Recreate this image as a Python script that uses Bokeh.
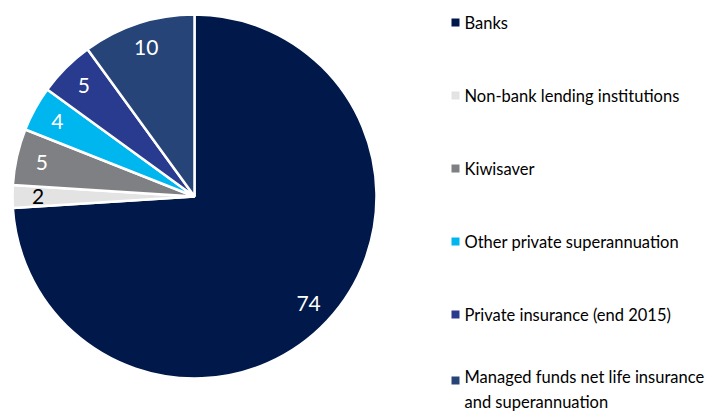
import numpy as np
from bokeh.plotting import figure
from bokeh.models import ColumnDataSource, Range1d
from bokeh.core.properties import value
from bokeh.embed import file_html
from bokeh.resources import INLINE

categories = ["Banks", "Non-bank lending institutions", "Kiwisaver",
              "Other private superannuation", "Private insurance (end 2015)",
              "Managed funds net life insurance\nand superannuation"]
shares = [74, 2, 5, 4, 5, 10]
colors = ["#00194a", "#e3e3e3", "#7f8083", "#00b6ef", "#283b8e", "#264477"]
label_colors = ["white", "black", "white", "white", "white", "white"]

W, H = 718, 414
p = figure(width=W, height=H, output_backend="svg", toolbar_location=None,
           x_range=Range1d(0, W), y_range=Range1d(0, H), min_border=0)
p.axis.visible = False
p.grid.visible = False
p.outline_line_color = None

# pie geometry in page px (top-left origin) -> plot coords
def py(y):
    return H - y

cx, cy, R = 194, py(196), 182
vals = np.array(shares, dtype=float)
frac = vals / vals.sum()
cum = np.concatenate([[0], np.cumsum(frac)])
start = np.pi / 2 - 2 * np.pi * cum[:-1]
end = np.pi / 2 - 2 * np.pi * cum[1:]
mid = (start + end) / 2

src = ColumnDataSource(dict(start=start, end=end, color=colors))
p.wedge(x=cx, y=cy, radius=R, radius_units="screen", start_angle="start",
        end_angle="end", direction="clock", fill_color="color",
        line_color="white", line_width=2.5, source=src)

lr = 0.86 * R
lsrc = ColumnDataSource(dict(x=cx + lr * np.cos(mid), y=cy + lr * np.sin(mid),
                             t=[str(s) for s in shares], c=label_colors))
p.text(x="x", y="y", text="t", text_color="c", source=lsrc,
       text_font=value("Lato"), text_font_size="21px",
       text_align="center", text_baseline="middle")

# legend
n = len(categories)
ly = [py(22 + i * 73) for i in range(n)]
sq_y = list(ly)
sq_y[-1] = py(380)
ly[-1] = py(389)
gsrc = ColumnDataSource(dict(x=[455] * n, y=ly, sy=sq_y, c=colors,
                             tx=[464] * n, t=categories))
p.rect(x="x", y="sy", width=8, height=8, width_units="screen",
       height_units="screen", fill_color="c", line_color=None, source=gsrc)
p.text(x="tx", y="y", text="t", source=gsrc, text_font=value("Lato"),
       text_font_size="16.5px", text_color="black", text_align="left",
       text_baseline="middle", text_line_height=1.25)

open("out.html", "w").write(file_html(p, INLINE))
